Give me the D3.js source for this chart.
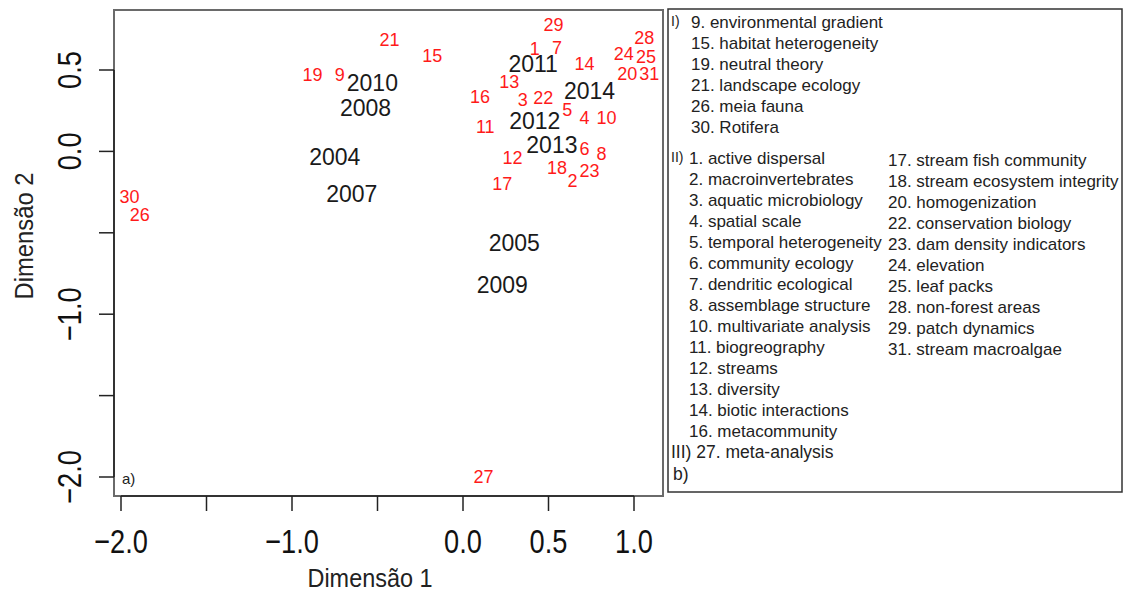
<!DOCTYPE html>
<html>
<head>
<meta charset="utf-8">
<script src="https://cdn.jsdelivr.net/npm/d3@7"></script>
<style>
  body { margin: 0; background: #fff; }
  text { font-family: "Liberation Sans", Arial, sans-serif; }
</style>
</head>
<body>
<div id="chart"></div>
<script>
// years (black labels) on the two MDS dimensions
var yearLabels = ["2004", "2005", "2007", "2008", "2009", "2010", "2011", "2012", "2013", "2014"];
var yearDim1   = [-0.75, 0.30, -0.65, -0.57, 0.23, -0.53, 0.41, 0.42, 0.52, 0.74];
var yearDim2   = [-0.03, -0.56, -0.26, 0.27, -0.82, 0.42, 0.54, 0.19, 0.04, 0.37];

// keyword numbers (red labels)
var termIds  = [1, 2, 3, 4, 5, 6, 7, 8, 9, 10, 11, 12, 13, 14, 15, 16, 17, 18, 19, 20, 21, 22, 23, 24, 25, 26, 27, 28, 29, 30, 31];
var termDim1 = [0.42, 0.64, 0.35, 0.71, 0.61, 0.71, 0.55, 0.81, -0.72, 0.84, 0.13, 0.29, 0.27, 0.71, -0.18, 0.10, 0.23, 0.55, -0.88, 0.96, -0.43, 0.47, 0.74, 0.94, 1.07, -1.89, 0.12, 1.06, 0.53, -1.95, 1.09];
var termDim2 = [0.63, -0.18, 0.32, 0.21, 0.26, 0.02, 0.64, -0.01, 0.47, 0.21, 0.15, -0.04, 0.43, 0.54, 0.59, 0.34, -0.20, -0.10, 0.47, 0.48, 0.69, 0.33, -0.12, 0.60, 0.58, -0.39, -2.00, 0.70, 0.78, -0.28, 0.48];

var xTicks = [-2.0, -1.5, -1.0, -0.5, 0.0, 0.5, 1.0],
    xTickLabels = ["\u22122.0", "", "\u22121.0", "", "0.0", "0.5", "1.0"];
var yTicks = [-2.0, -1.5, -1.0, -0.5, 0.0, 0.5],
    yTickLabels = ["\u22122.0", "", "\u22121.0", "", "0.0", "0.5"];

// legend groups
var group1 = ["9. environmental gradient", "15. habitat heterogeneity", "19. neutral theory",
              "21. landscape ecology", "26. meia fauna", "30. Rotifera"];
var group2a = ["1. active dispersal", "2. macroinvertebrates", "3. aquatic microbiology", "4. spatial scale",
               "5. temporal heterogeneity", "6. community ecology", "7. dendritic ecological",
               "8. assemblage structure", "10. multivariate analysis", "11. biogreography", "12. streams",
               "13. diversity", "14. biotic interactions", "16. metacommunity"];
var group2b = ["17. stream fish community", "18. stream ecosystem integrity", "20. homogenization",
               "22. conservation biology", "23. dam density indicators", "24. elevation", "25. leaf packs",
               "28. non-forest areas", "29. patch dynamics", "31. stream macroalgae"];
var group3 = ["27. meta-analysis"];

var W = 1130, H = 591,
    box = {left: 114, right: 663, top: 10, bottom: 496};

var svg = d3.select("#chart").append("svg")
    .attr("width", W)
    .attr("height", H);

var x = d3.scaleLinear().domain([-2.0, 1.0]).range([121, 634]);
var y = d3.scaleLinear().domain([-2.0, 0.5]).range([477, 70]);

// plot frame
svg.append("rect")
    .attr("x", box.left).attr("y", box.top)
    .attr("width", box.right - box.left).attr("height", box.bottom - box.top)
    .attr("fill", "none").attr("stroke", "#6a6a6a").attr("stroke-width", 2);

// x axis
var xAxis = svg.append("g").attr("transform", "translate(0," + box.bottom + ")");
xAxis.append("line")
    .attr("x1", x(-2.0)).attr("x2", x(1.0))
    .attr("stroke", "#222").attr("stroke-width", 1.5);
xAxis.selectAll("line.tick").data(xTicks).enter().append("line")
    .attr("class", "tick")
    .attr("x1", function(d) { return x(d); }).attr("x2", function(d) { return x(d); })
    .attr("y1", 0).attr("y2", 15)
    .attr("stroke", "#222").attr("stroke-width", 1.5);
xAxis.selectAll("text").data(xTicks).enter().append("text")
    .attr("class", "axislab")
    .attr("x", function(d) { return x(d); })
    .attr("y", 57)
    .attr("text-anchor", "middle")
    .attr("font-size", 34)
    .attr("fill", "#111")
    .text(function(d, i) { return xTickLabels[i]; });

// y axis
var yAxis = svg.append("g").attr("transform", "translate(" + box.left + ",0)");
yAxis.append("line")
    .attr("y1", y(-2.0)).attr("y2", y(0.5))
    .attr("stroke", "#222").attr("stroke-width", 1.5);
yAxis.selectAll("line.tick").data(yTicks).enter().append("line")
    .attr("class", "tick")
    .attr("y1", function(d) { return y(d); }).attr("y2", function(d) { return y(d); })
    .attr("x1", 0).attr("x2", -15)
    .attr("stroke", "#222").attr("stroke-width", 1.5);
yAxis.selectAll("text").data(yTicks).enter().append("text")
    .attr("class", "axislab")
    .attr("transform", function(d) { return "translate(-33," + y(d) + ") rotate(-90)"; })
    .attr("text-anchor", "middle")
    .attr("font-size", 34)
    .attr("fill", "#111")
    .text(function(d, i) { return yTickLabels[i]; });

// axis labels in the reference are narrow: squeeze them
svg.selectAll("text.axislab").each(function() {
  var t = d3.select(this);
  if (!t.text()) return;
  t.attr("textLength", this.getComputedTextLength() * 0.8)
   .attr("lengthAdjust", "spacingAndGlyphs");
});

svg.append("text")
    .attr("x", 370).attr("y", 587)
    .attr("text-anchor", "middle")
    .attr("font-size", 25)
    .attr("fill", "#222")
    .attr("textLength", 125).attr("lengthAdjust", "spacingAndGlyphs")
    .text("Dimensão 1");

svg.append("text")
    .attr("transform", "translate(33,236) rotate(-90)")
    .attr("text-anchor", "middle")
    .attr("font-size", 25)
    .attr("fill", "#222")
    .attr("textLength", 127).attr("lengthAdjust", "spacingAndGlyphs")
    .text("Dimensão 2");

svg.append("text")
    .attr("x", 122).attr("y", 484)
    .attr("font-size", 15)
    .attr("fill", "#222")
    .text("a)");

// points drawn as labels
svg.append("g").selectAll("text")
    .data(yearLabels).enter().append("text")
    .attr("x", function(d, i) { return x(yearDim1[i]); })
    .attr("y", function(d, i) { return y(yearDim2[i]); })
    .attr("dy", "0.36em")
    .attr("text-anchor", "middle")
    .attr("font-size", 23)
    .attr("fill", "#1a1a1a")
    .text(function(d) { return d; });

svg.append("g").selectAll("text")
    .data(termIds).enter().append("text")
    .attr("x", function(d, i) { return x(termDim1[i]); })
    .attr("y", function(d, i) { return y(termDim2[i]); })
    .attr("dy", "0.36em")
    .attr("text-anchor", "middle")
    .attr("font-size", 18)
    .attr("fill", "#ff1a1a")
    .text(function(d) { return d; });

// legend panel b)
var leg = svg.append("g");
leg.append("rect")
    .attr("x", 668).attr("y", 9)
    .attr("width", 1122 - 668).attr("height", 492 - 9)
    .attr("fill", "none").attr("stroke", "#333").attr("stroke-width", 1.5);

function column(items, x0, y0, cls) {
  leg.selectAll("text." + cls).data(items).enter().append("text")
      .attr("class", cls)
      .attr("x", x0)
      .attr("y", function(d, i) { return y0 + i * 21; })
      .attr("dy", "0.36em")
      .attr("font-size", 17)
      .attr("fill", "#222")
      .text(function(d) { return d; });
}

column(group1, 691, 22, "g1");
column(group2a, 689, 158, "g2a");
column(group2b, 888, 160, "g2b");

leg.append("text").attr("x", 671).attr("y", 21).attr("dy", "0.36em")
    .attr("font-size", 14).attr("fill", "#222").text("I)");
leg.append("text").attr("x", 671).attr("y", 157).attr("dy", "0.36em")
    .attr("font-size", 14).attr("fill", "#222").text("II)");
leg.append("text").attr("x", 671).attr("y", 452).attr("dy", "0.36em")
    .attr("font-family", "Open Sans").attr("font-size", 17.5).attr("fill", "#222")
    .text("III) " + group3[0]);
leg.append("text").attr("x", 673).attr("y", 474).attr("dy", "0.36em")
    .attr("font-family", "Open Sans").attr("font-size", 17.5).attr("fill", "#222")
    .text("b)");
</script>
</body>
</html>
